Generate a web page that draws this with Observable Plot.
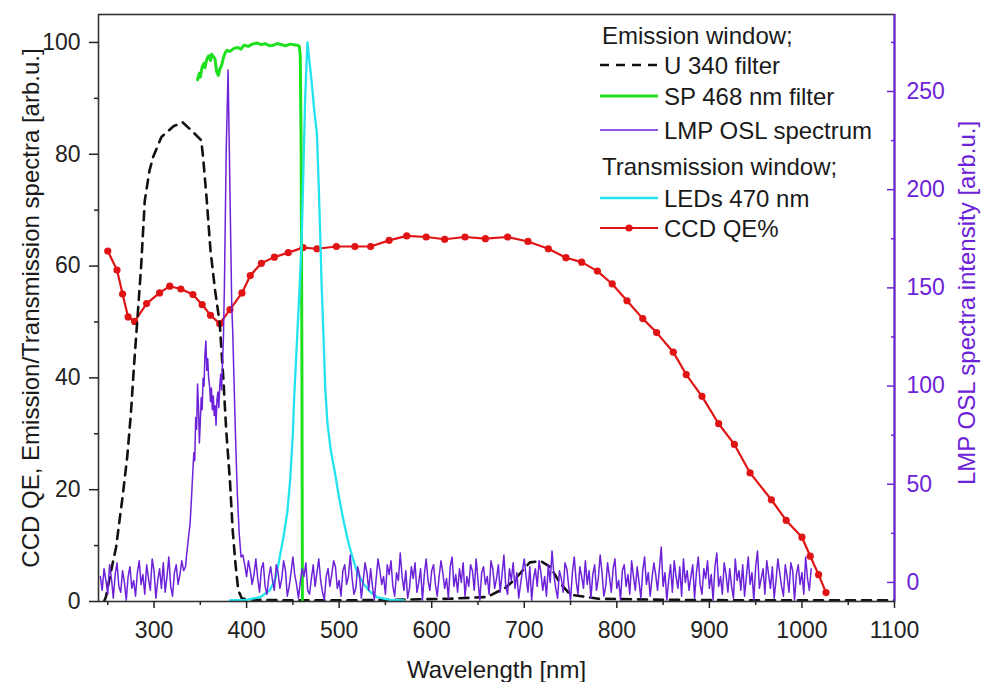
<!DOCTYPE html>
<html><head><meta charset="utf-8">
<script src="https://cdn.jsdelivr.net/npm/d3@7"></script>
<script src="https://cdn.jsdelivr.net/npm/@observablehq/plot@0.6"></script>
<style>
body{margin:0;background:#fff;}
#wrap{position:relative;width:989px;height:682px;font-family:"Liberation Sans",Arial,sans-serif;overflow:hidden;}
.lg{position:absolute;font-size:24px;line-height:24px;color:#1a1a1a;white-space:nowrap;}
.sw{position:absolute;overflow:visible;}
</style></head><body><div id="wrap"></div>
<script>
// ---------- axes ----------
const xDomain = [240, 1100];
const leftDomain = [0, 105];
const rightDomain = [-9.7, 289.2];
const xTicks = [300, 400, 500, 600, 700, 800, 900, 1000, 1100];
const xMinorTicks = [250, 350, 450, 550, 650, 750, 850, 950, 1050];
const leftTicks = [0, 20, 40, 60, 80, 100];
const leftMinorTicks = [10, 30, 50, 70, 90];
const rightTicks = [0, 50, 100, 150, 200, 250];
const rightMinorTicks = [25, 75, 125, 175, 225, 275];
const xTitle = "Wavelength [nm]";
const leftTitle = "CCD QE, Emission/Transmission spectra [arb.u.]";
const rightTitle = "LMP OSL spectra intensity [arb.u.]";

// ---------- U 340 filter (left axis) ----------
const u340Nm = [246,248,253,259,266,271,275,278,281,286,290,295,299,308,321,331,342,351,353,357,361,366,371,375,378,382,385,388,391,395,410,450,500,560,620,660,680,690,706,718,728,739,750,780,850,950,1050,1100];
const u340Val = [0,0.8,5,9.7,18.7,25.8,33.6,41.3,48.2,59.8,71.7,77,79.5,83.1,85,85.7,84,82.5,79.5,71.7,62.8,55.6,49.7,39.5,30.6,21.6,12.7,6.7,2,0.5,0.3,0.2,0.2,0.3,0.5,0.8,2.5,4,7,7.2,6.2,3.2,1.2,0.5,0.3,0.2,0.2,0.2];

// ---------- SP 468 nm filter (left axis) ----------
const sp468Nm = [347,349,350,352,354,355,357,359,361,362,364,366,367,368,369.5,371,373,375,377,379,382,386,390,394,397,402,406,411,416,420,425,429,433,438,442,447,451,455,457,458,459,459.8,460.3];
const sp468Val = [93.3,94.5,93.8,95.6,96.3,95.5,97,97.6,96.8,97.9,97.5,97,95.5,94.6,94.1,95.2,95.9,97.3,98.2,98.6,98.4,98.9,99.1,98.8,99.5,99.3,99.7,99.9,99.6,99.8,99.4,99.5,99.8,99.6,99.4,99.7,99.6,99.5,99.3,97.5,80,40,0];

// ---------- LEDs 470 nm (left axis) ----------
const ledNm = [382,400,415,425,431,434.4,439.8,444,447,450,451.4,455,457.5,459.7,461.5,463.2,465.7,468,470.5,473,476,478,479.5,481,483,485,487.4,491,495.7,500,504.7,510,515.5,520,526.3,533,540.7,555,570];
const ledVal = [0.2,0.3,0.8,2,4,6.7,11.5,16,21.6,30,36.5,48.5,57,65.8,78,89.6,100,96.5,92.6,88,83.6,74,65.8,57,47.9,38,31.8,27,22.8,18.5,14.5,10.5,7.3,5,3.2,1.8,0.8,0.3,0.2];

// ---------- CCD QE% (left axis) ----------
const ccdNm = [250,260,266,272,279,292,306,317,329,342,352,361,371,382,395,404,416,430,445,461,476,497,517,534,554,573,594,614,636,658,682,704,726,745,762,779,795,811,828,843,861,875,892,910,927,944,967,983,1000,1009,1018,1026];
const ccdVal = [62.7,59.3,55,50.9,50.1,53.3,55.2,56.4,55.9,54.9,53.1,51.2,49.7,52.2,55.2,58.3,60.5,61.6,62.4,63.3,63.1,63.5,63.5,63.5,64.6,65.4,65.2,64.8,65.2,64.9,65.2,64.4,63.1,61.5,60.7,59.1,56.8,53.8,50.6,48.1,44.6,40.6,36.7,31.8,28.1,23,18.2,14.5,11.5,8.1,4.8,1.6];

// ---------- LMP OSL spectrum (right axis) ----------
const oslNoiseAStart = 242, oslNoiseAStep = 2;
const oslNoiseA = [3,-4,7,1,-6,9,2,-8,4,10,-2,-5,6,0,-9,3,8,-3,1,-7,5,11,-1,4,-6,9,2,-4,12,6,-8,1,7,-3,10,-5,3,13,-2,-7,5,9,-1,4,11,6,8];
const oslPeakNm = [335,337,339,341,343,344,345,346,347,348,349,350,351,352,353,354,355,356,357,358,359,360,361,362,363,364,365,366,367,368,369,370,371,372,373,374,375,376,378,380,382,384,385,386,388,390,392,394];
const oslPeakVal = [13,22,30,48,66,62,84,78,101,90,71,82,94,88,104,100,116,123,108,114,104,100,92,99,88,95,85,90,80,93,97,89,100,106,98,112,125,150,220,261,200,140,128,110,75,45,25,13];
const oslNoiseBStart = 396, oslNoiseBStep = 2;
const oslNoiseB = [
14,9,3,11,6,-1,4,12,2,-5,7,10,-2,-6,3,8,1,-4,9,5,
-3,2,11,6,-7,-2,5,13,4,-1,-8,0,7,3,10,-4,-6,2,9,-2,
5,12,1,-5,-9,3,7,-2,4,11,8,-3,1,-7,6,9,-1,3,14,2,
-6,-3,8,4,-8,1,10,5,-4,7,-2,-9,2,12,6,-1,3,-6,9,4,
11,-2,-7,5,1,15,3,-4,6,-8,-3,8,2,10,-5,0,7,-9,4,12,
1,-4,6,9,-1,-7,3,11,5,-3,2,-8,8,13,-2,4,-5,7,0,10,
-7,3,-2,9,6,-4,12,1,-9,5,8,-1,3,-6,11,7,-3,2,9,-5,
4,14,-2,-6,7,1,10,-3,5,-8,-1,6,12,3,-5,8,-9,2,7,-2,
11,5,-4,3,-7,9,0,16,4,-3,-8,6,2,-5,10,7,-2,-9,5,13,
1,-6,8,3,-3,11,-1,6,-8,4,9,-4,2,14,5,-7,-2,10,3,-5,
7,12,-3,1,-9,6,9,-2,4,-6,11,3,-4,8,0,-8,6,13,-1,5,
-7,2,10,4,-4,7,18,-2,5,-9,1,9,-5,11,3,-3,8,-7,12,0,
6,-4,3,9,-8,5,13,-1,-6,7,2,11,-3,4,-9,8,15,-2,3,-6,
10,4,-5,7,-2,-8,12,1,6,-4,9,-7,3,13,-1,5,-9,8,16,-3,
2,7,-6,11,4,-3,8,-8,1,12,5,-2,-7,9,3,-5,10,6,-9,4,
9,-1,5,-6,13,2,-4,7];

// ---------- legend ----------
const legendRows = [
  {label: "Emission window;", kind: "header"},
  {label: "U 340 filter", kind: "dash"},
  {label: "SP 468 nm filter", kind: "green"},
  {label: "LMP OSL spectrum", kind: "purple"},
  {label: "Transmission window;", kind: "header"},
  {label: "LEDs 470 nm", kind: "cyan"},
  {label: "CCD QE%", kind: "red"}
];

// ---------- styles ----------
const C = {dash: "#111111", green: "#1fe01f", purple: "#6c22d8", cyan: "#22e3ee", red: "#e01414"};
const W = {dash: 2.6, green: 3, purple: 1.5, cyan: 2.3, red: 2.2};

// ---------- build ----------
const k = (leftDomain[1] - leftDomain[0]) / (rightDomain[1] - rightDomain[0]);
const toLeft = r => (r - rightDomain[0]) * k + leftDomain[0];
const fromLeft = l => (l - leftDomain[0]) / k + rightDomain[0];
const pairs = (xs, ys) => xs.map((x, i) => ({x, y: ys[i]}));

const u340 = pairs(u340Nm, u340Val);
const sp468 = pairs(sp468Nm, sp468Val);
const led = pairs(ledNm, ledVal);
const ccd = pairs(ccdNm, ccdVal);
const osl = [
  ...oslNoiseA.map((v, i) => ({x: oslNoiseAStart + i * oslNoiseAStep, v})),
  ...oslPeakNm.map((x, i) => ({x, v: oslPeakVal[i]})),
  ...oslNoiseB.map((v, i) => ({x: oslNoiseBStart + i * oslNoiseBStep, v}))
];

const FS = 23;
const chart = Plot.plot({
  width: 989, height: 682,
  marginLeft: 98, marginRight: 95, marginTop: 14, marginBottom: 81,
  style: {fontFamily: "Liberation Sans, Arial, sans-serif", fontSize: FS + "px", color: "#222", background: "#fff"},
  x: {domain: xDomain, axis: null},
  y: {domain: leftDomain, axis: null},
  marks: [
    Plot.line(ccd, {x: "x", y: "y", stroke: C.red, strokeWidth: W.red, clip: true}),
    Plot.dot(ccd, {x: "x", y: "y", r: 3.6, fill: C.red, stroke: "none", clip: true}),
    Plot.line(u340, {x: "x", y: "y", stroke: C.dash, strokeWidth: W.dash, strokeDasharray: "9,7", clip: true}),
    Plot.line(sp468, {x: "x", y: "y", stroke: C.green, strokeWidth: W.green, clip: true}),
    Plot.line(led, {x: "x", y: "y", stroke: C.cyan, strokeWidth: W.cyan, clip: true}),
    Plot.line(osl, {x: "x", y: d => toLeft(d.v), stroke: C.purple, strokeWidth: W.purple, clip: true}),
    Plot.frame({stroke: "#333", strokeWidth: 1.6}),
    Plot.ruleX([xDomain[1]], {stroke: C.purple, strokeWidth: 2}),
    Plot.axisX({ticks: xTicks, tickSize: 7, tickPadding: 13, tickFormat: d => String(d), fontSize: FS, label: null, strokeWidth: 1.5}),
    Plot.axisX({ticks: xMinorTicks, tickSize: 4, tickFormat: () => "", label: null, strokeWidth: 1.5}),
    Plot.axisY({ticks: leftTicks, tickSize: 9, tickPadding: 9, tickFormat: d => String(d), fontSize: FS, label: null, strokeWidth: 1.5}),
    Plot.axisY({ticks: leftMinorTicks, tickSize: 4, tickFormat: () => "", label: null, strokeWidth: 1.5}),
    Plot.axisY({anchor: "right", ticks: rightTicks.map(toLeft), tickFormat: d => String(Math.round(fromLeft(d))), tickSize: -8, tickPadding: 20, fontSize: FS, label: null, color: C.purple, strokeWidth: 1.5}),
    Plot.axisY({anchor: "right", ticks: rightMinorTicks.map(toLeft), tickFormat: () => "", tickSize: -4, label: null, color: C.purple, strokeWidth: 1.5}),
    Plot.text([leftTitle], {text: d => d, frameAnchor: "left", dx: -67, rotate: -90, textAnchor: "middle", lineAnchor: "middle", fontSize: 24, fill: "#1a1a1a"}),
    Plot.text([rightTitle], {text: d => d, frameAnchor: "right", dx: 73, dy: -5, rotate: -90, textAnchor: "middle", lineAnchor: "middle", fontSize: 24, fill: C.purple}),
    Plot.text([xTitle], {text: d => d, frameAnchor: "bottom", dy: 69, textAnchor: "middle", lineAnchor: "middle", fontSize: 24, fill: "#1a1a1a"})
  ]
});
const wrap = document.getElementById("wrap");
wrap.appendChild(chart);

// legend overlay
const rowY = [35, 65, 96, 130, 166, 198, 228];
const ns = "http://www.w3.org/2000/svg";
legendRows.forEach((row, i) => {
  const cy = rowY[i];
  const t = document.createElement("div");
  t.className = "lg";
  t.textContent = row.label;
  t.style.left = (row.kind === "header" ? 602 : 664) + "px";
  t.style.top = (cy - 11) + "px";
  wrap.appendChild(t);
  if (row.kind !== "header") {
    const s = document.createElementNS(ns, "svg");
    s.setAttribute("class", "sw");
    s.setAttribute("width", 60); s.setAttribute("height", 12);
    s.style.left = "599px"; s.style.top = (cy - 6) + "px";
    const l = document.createElementNS(ns, "line");
    l.setAttribute("x1", 1); l.setAttribute("x2", 59);
    l.setAttribute("y1", 6); l.setAttribute("y2", 6);
    l.setAttribute("stroke", C[row.kind]);
    l.setAttribute("stroke-width", W[row.kind]);
    if (row.kind === "dash") l.setAttribute("stroke-dasharray", "9,7");
    s.appendChild(l);
    if (row.kind === "red") {
      const c = document.createElementNS(ns, "circle");
      c.setAttribute("cx", 30); c.setAttribute("cy", 6); c.setAttribute("r", 3.6);
      c.setAttribute("fill", C.red);
      s.appendChild(c);
    }
    wrap.appendChild(s);
  }
});
</script></body></html>
